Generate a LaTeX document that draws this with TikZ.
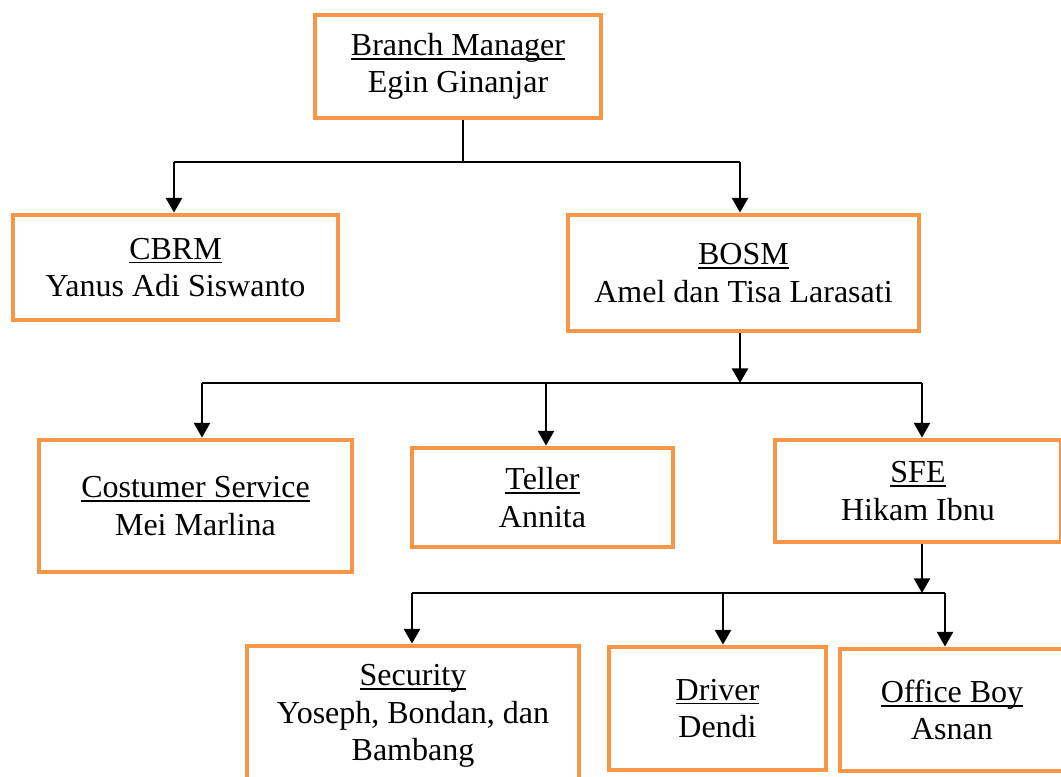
\documentclass[tikz,border=0pt]{standalone}
\usepackage{fontspec}
\setmainfont{Liberation Serif}
\usetikzlibrary{arrows.meta}
\definecolor{boxorange}{RGB}{247,150,70}
\newcommand\undl[1]{\setbox0\hbox{#1}\rlap{\rule[-0.13em]{\wd0}{0.06em}}\box0}
\tikzset{
  orgbox/.style={draw=boxorange, line width=3.6pt, rectangle, inner sep=0pt,
    align=center, font=\fontsize{24}{28}\selectfont},
  conn/.style={draw=black, line width=1.8pt},
  arr/.style={conn, -{Triangle[length=11pt,width=12pt]}}
}
\begin{document}
\begin{tikzpicture}[x=0.75pt,y=-0.75pt]
\useasboundingbox (0,0) rectangle (1061,777);
% boxes
\node[orgbox, minimum width=286*0.75pt, minimum height=103*0.75pt] (bm) at (458,66.5) {\undl{Branch Manager}\\Egin Ginanjar};
\node[orgbox, minimum width=325*0.75pt, minimum height=105*0.75pt] (cbrm) at (175.5,267.5) {\undl{CBRM}\\Yanus Adi Siswanto};
\node[orgbox, minimum width=351*0.75pt, minimum height=116*0.75pt] (bosm) at (743.5,273) {\undl{BOSM}\\Amel dan Tisa Larasati};
\node[orgbox, minimum width=313*0.75pt, minimum height=132*0.75pt] (cs) at (195.5,506) {\undl{Costumer Service}\\Mei Marlina};
\node[orgbox, minimum width=261*0.75pt, minimum height=99*0.75pt] (teller) at (542.5,497.5) {\undl{Teller}\\Annita};
\node[orgbox, minimum width=286*0.75pt, minimum height=102*0.75pt] (sfe) at (918,491) {\undl{SFE}\\Hikam Ibnu};
\node[orgbox, minimum width=332*0.75pt, minimum height=140*0.75pt] (sec) at (413,716) {\undl{Security}\\Yoseph, Bondan, dan\\Bambang};
\node[orgbox, minimum width=217*0.75pt, minimum height=123*0.75pt] (drv) at (717.5,708.5) {\undl{Driver}\\Dendi};
\node[orgbox, minimum width=224*0.75pt, minimum height=122*0.75pt] (ob) at (952,710) {\undl{Office Boy}\\Asnan};
% level 1 connectors
\coordinate (j1) at (463,162);
\coordinate (l1a) at (174,162);
\coordinate (l1b) at (740,162);
\draw[conn] (bm.south -| j1) -- (j1);
\draw[conn] (l1a) -- (l1b);
\draw[arr] (l1a) -- (l1a |- cbrm.north);
\draw[arr] (l1b) -- (l1b |- bosm.north);
% level 2 connectors
\coordinate (j2) at (740,383);
\coordinate (l2a) at (202,383);
\coordinate (l2b) at (546,383);
\coordinate (l2c) at (922,383);
\draw[arr] (bosm.south -| j2) -- (j2);
\draw[conn] (l2a) -- (l2c);
\draw[arr] (l2a) -- (l2a |- cs.north);
\draw[arr] (l2b) -- (l2b |- teller.north);
\draw[arr] (l2c) -- (l2c |- sfe.north);
% level 3 connectors
\coordinate (j3) at (922,593);
\coordinate (l3a) at (412,593);
\coordinate (l3b) at (723,593);
\coordinate (l3c) at (945,593);
\draw[arr] (sfe.south -| j3) -- (j3);
\draw[conn] (l3a) -- (l3c);
\draw[arr] (l3a) -- (l3a |- sec.north);
\draw[arr] (l3b) -- (l3b |- drv.north);
\draw[arr] (l3c) -- (l3c |- ob.north);
\end{tikzpicture}
\end{document}
